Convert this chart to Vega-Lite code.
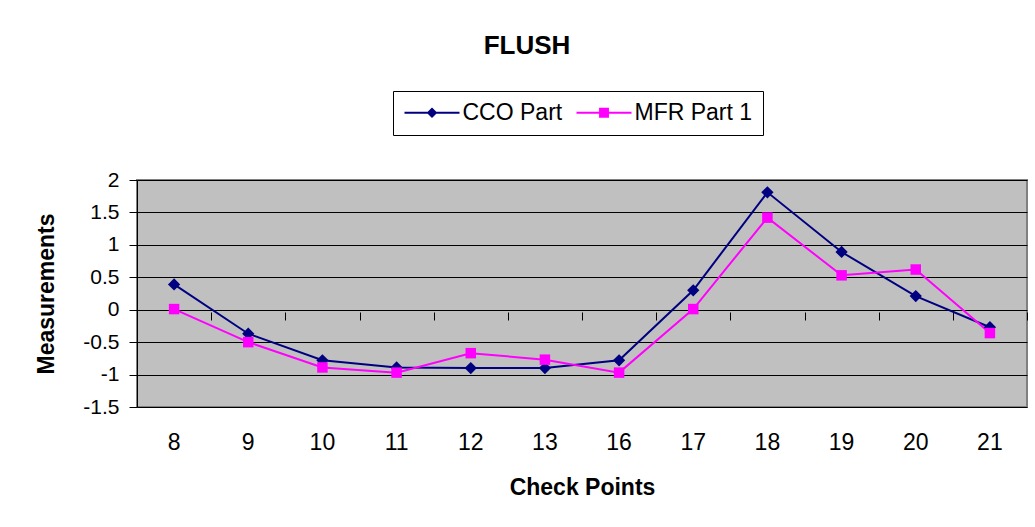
{
  "$schema": "https://vega.github.io/schema/vega-lite/v6.json",
  "width": 890,
  "height": 227,
  "autosize": {"type": "none"},
  "padding": {"left": 137, "top": 180, "right": 8, "bottom": 120},
  "background": "white",
  "config": {
    "font": "Liberation Sans",
    "view": {"fill": "#C0C0C0", "stroke": "#808080", "strokeWidth": 2}
  },
  "title": {
    "text": "FLUSH",
    "fontSize": 26,
    "fontWeight": "bold",
    "font": "Liberation Sans",
    "color": "black",
    "anchor": "middle",
    "frame": "group",
    "dx": -55,
    "offset": 32
  },
  "data": {
    "values": [
      {"cp": 8, "series": "CCO Part", "value": 0.39},
      {"cp": 9, "series": "CCO Part", "value": -0.37},
      {"cp": 10, "series": "CCO Part", "value": -0.78},
      {"cp": 11, "series": "CCO Part", "value": -0.89},
      {"cp": 12, "series": "CCO Part", "value": -0.9},
      {"cp": 13, "series": "CCO Part", "value": -0.9},
      {"cp": 16, "series": "CCO Part", "value": -0.78},
      {"cp": 17, "series": "CCO Part", "value": 0.3},
      {"cp": 18, "series": "CCO Part", "value": 1.81},
      {"cp": 19, "series": "CCO Part", "value": 0.89},
      {"cp": 20, "series": "CCO Part", "value": 0.21},
      {"cp": 21, "series": "CCO Part", "value": -0.27},
      {"cp": 8, "series": "MFR Part 1", "value": 0.01},
      {"cp": 9, "series": "MFR Part 1", "value": -0.5},
      {"cp": 10, "series": "MFR Part 1", "value": -0.89},
      {"cp": 11, "series": "MFR Part 1", "value": -0.97},
      {"cp": 12, "series": "MFR Part 1", "value": -0.67},
      {"cp": 13, "series": "MFR Part 1", "value": -0.77},
      {"cp": 16, "series": "MFR Part 1", "value": -0.97},
      {"cp": 17, "series": "MFR Part 1", "value": 0.01},
      {"cp": 18, "series": "MFR Part 1", "value": 1.42},
      {"cp": 19, "series": "MFR Part 1", "value": 0.53},
      {"cp": 20, "series": "MFR Part 1", "value": 0.62},
      {"cp": 21, "series": "MFR Part 1", "value": -0.36}
    ]
  },
  "encoding": {
    "y": {
      "field": "value",
      "type": "quantitative",
      "scale": {"domain": [-1.5, 2], "nice": false, "zero": false},
      "axis": {
        "title": "Measurements",
        "titleFontSize": 23,
        "titleFontWeight": "bold",
        "titleColor": "black",
        "titlePadding": 24,
        "values": [-1.5, -1, -0.5, 0, 0.5, 1, 1.5, 2],
        "labelExpr": "'' + datum.value",
        "labelOverlap": false,
        "labelFontSize": 21,
        "labelColor": "black",
        "labelPadding": 10,
        "tickSize": 8,
        "tickColor": "black",
        "domainColor": "black",
        "domainWidth": 1,
        "grid": true,
        "gridColor": "black",
        "gridWidth": 1,
        "gridOpacity": 1
      }
    }
  },
  "resolve": {
    "axis": {"x": "independent"},
    "scale": {"shape": "independent", "color": "independent"},
    "legend": {"shape": "independent", "color": "independent"}
  },
  "layer": [
    {
      "mark": {"type": "line", "strokeWidth": 2},
      "encoding": {
        "x": {
          "field": "cp",
          "type": "ordinal",
          "sort": [8, 9, 10, 11, 12, 13, 16, 17, 18, 19, 20, 21],
          "bandPosition": 0.5,
          "scale": {"type": "band", "paddingInner": 0, "paddingOuter": 0},
          "axis": {
            "title": "Check Points",
            "titleFontSize": 23,
            "titleFontWeight": "bold",
            "titleColor": "black",
            "titlePadding": 22,
            "labelFontSize": 23,
            "labelColor": "black",
            "labelAngle": 0,
            "labelPadding": 24,
            "ticks": false,
            "domain": false,
            "grid": false
          }
        },
        "color": {
          "field": "series",
          "type": "nominal",
          "scale": {"domain": ["CCO Part", "MFR Part 1"], "range": ["#000080", "#FF00FF"]},
          "legend": null
        }
      }
    },
    {
      "mark": {"type": "point", "filled": true, "opacity": 1},
      "encoding": {
        "x": {
          "field": "cp",
          "type": "ordinal",
          "sort": [8, 9, 10, 11, 12, 13, 16, 17, 18, 19, 20, 21],
          "bandPosition": 0.5,
          "axis": {
            "title": null,
            "labels": false,
            "domain": false,
            "grid": false,
            "ticks": true,
            "tickBand": "extent",
            "tickSize": 8,
            "tickColor": "black",
            "tickWidth": 1,
            "offset": -140
          }
        },
        "color": {
          "field": "series",
          "type": "nominal",
          "scale": {"domain": ["CCO Part", "MFR Part 1"], "range": ["#000080", "#FF00FF"]},
          "legend": null
        },
        "shape": {
          "field": "series",
          "type": "nominal",
          "scale": {"domain": ["CCO Part", "MFR Part 1"], "range": ["diamond", "square"]},
          "legend": null
        },
        "size": {
          "field": "series",
          "type": "nominal",
          "scale": {"domain": ["CCO Part", "MFR Part 1"], "range": [150, 110]},
          "legend": null
        }
      }
    },
    {
      "mark": {"type": "point", "filled": true, "opacity": 0},
      "encoding": {
        "x": {
          "field": "cp",
          "type": "ordinal",
          "sort": [8, 9, 10, 11, 12, 13, 16, 17, 18, 19, 20, 21],
          "bandPosition": 0.5,
          "axis": null
        },
        "color": {
          "field": "series",
          "type": "nominal",
          "scale": {"domain": ["CCO Part", "MFR Part 1"], "range": ["#000080", "#FF00FF"]},
          "legend": {
            "title": null,
            "orient": "none",
            "direction": "horizontal",
            "legendX": 256,
            "legendY": -89,
            "strokeColor": "black",
            "fillColor": "white",
            "padding": 10,
            "labelFontSize": 23,
            "labelColor": "black",
            "labelFont": "Liberation Sans",
            "labelOffset": 19,
            "symbolOffset": 17.5,
            "columnPadding": 12,
            "symbolSize": 484,
            "symbolStrokeWidth": 0,
            "symbolOpacity": 1
          }
        },
        "shape": {
          "field": "series",
          "type": "nominal",
          "scale": {"domain": ["CCO Part", "MFR Part 1"], "range": ["M-2.5,-0.09L2.5,-0.09L2.5,0.09L-2.5,0.09Z M0,-0.48L0.48,0L0,0.48L-0.48,0Z", "M-2.5,-0.09L2.5,-0.09L2.5,0.09L-2.5,0.09Z M-0.45,-0.45L0.45,-0.45L0.45,0.45L-0.45,0.45Z"]},
          "legend": {
            "title": null,
            "orient": "none",
            "direction": "horizontal",
            "legendX": 256,
            "legendY": -89,
            "strokeColor": "black",
            "fillColor": "white",
            "padding": 10,
            "labelFontSize": 23,
            "labelColor": "black",
            "labelFont": "Liberation Sans",
            "labelOffset": 19,
            "symbolOffset": 17.5,
            "columnPadding": 12,
            "symbolSize": 484,
            "symbolStrokeWidth": 0,
            "symbolOpacity": 1
          }
        }
      }
    }
  ]
}
